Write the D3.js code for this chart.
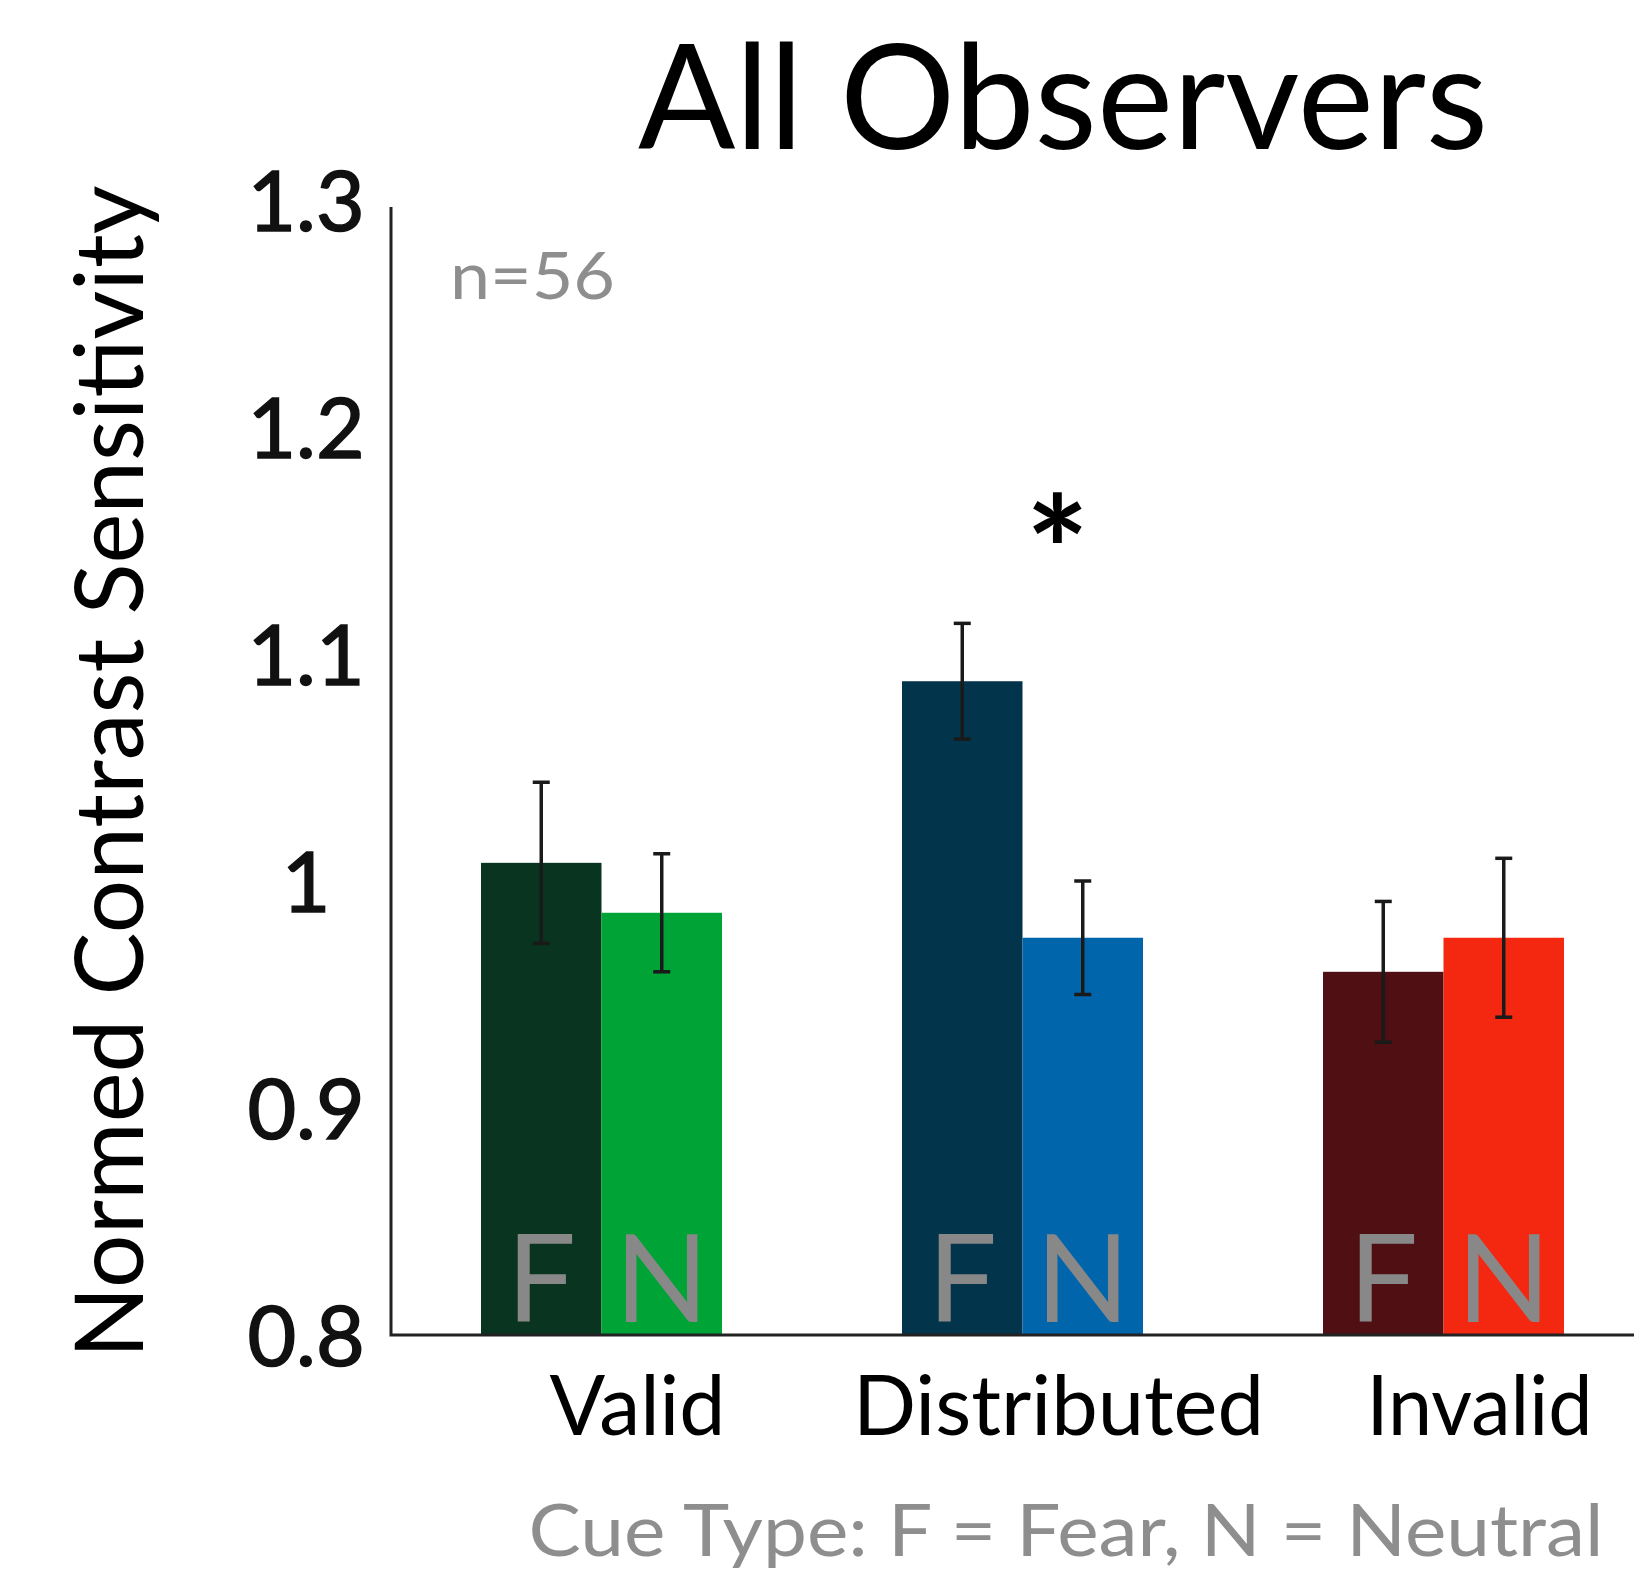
<!DOCTYPE html>
<html>
<head>
<meta charset="utf-8">
<script src="https://cdn.jsdelivr.net/npm/d3@7"></script>
<style>
  html, body { margin: 0; padding: 0; background: #ffffff; }
  svg { display: block; }
</style>
</head>
<body>
<script>
// Cue conditions and the two cue types (F = fear face, N = neutral face)
const categories = ["Valid", "Distributed", "Invalid"];
const cueTypes = ["F", "N"];

// Normed contrast sensitivity, mean and error per condition
const fearMeans = [1.008, 1.088, 0.960];
const fearErrors = [0.0355, 0.0255, 0.031];
const neutralMeans = [0.986, 0.975, 0.975];
const neutralErrors = [0.026, 0.025, 0.035];

// Bar fills: dark shade for fear, bright shade for neutral
const fearColors = ["#09341f", "#02344b", "#4f0f13"];
const neutralColors = ["#00a335", "#0065aa", "#f42810"];

// Axis ticks
const yTickValues = [0.8, 0.9, 1.0, 1.1, 1.2, 1.3];
const yTickLabels = ["0.8", "0.9", "1", "1.1", "1.2", "1.3"];

// Annotations
const titleText = "All Observers";
const yAxisTitle = "Normed Contrast Sensitivity";
const sampleText = "n=56";
const footerText = "Cue Type: F = Fear, N = Neutral";
const significantCategory = "Distributed";
const significanceMark = "*";

const W = 1634, H = 1575;
const FONT = "Lato, 'Open Sans', sans-serif";

const rows = categories.flatMap((c, i) => [
  { cat: c, cue: cueTypes[0], mean: fearMeans[i], err: fearErrors[i], color: fearColors[i] },
  { cat: c, cue: cueTypes[1], mean: neutralMeans[i], err: neutralErrors[i], color: neutralColors[i] }
]);

const svg = d3.select("body").append("svg")
  .attr("width", W).attr("height", H)
  .attr("viewBox", `0 0 ${W} ${H}`);

const axisX = 391, baseY = 1335, axisTop = 207;

const y = d3.scaleLinear().domain([0.8, 1.3]).range([baseY, 200]);
const x = d3.scaleBand().domain(categories).range([481, 1564]).paddingInner(0.4276).paddingOuter(0);
const xCue = d3.scaleBand().domain(cueTypes).range([0, x.bandwidth()]).padding(0);

// Bars
const bars = svg.append("g");
bars.selectAll("rect").data(rows).join("rect")
  .attr("x", d => x(d.cat) + xCue(d.cue))
  .attr("y", d => y(d.mean))
  .attr("width", xCue.bandwidth())
  .attr("height", d => y(0.8) - y(d.mean))
  .attr("fill", d => d.color);

// F / N letters at the foot of each bar
bars.selectAll("text.cue").data(rows).join("text")
  .attr("class", "cue")
  .attr("x", d => x(d.cat) + xCue(d.cue) + xCue.bandwidth() / 2)
  .attr("y", baseY - 13)
  .attr("text-anchor", "middle")
  .attr("font-family", FONT)
  .attr("font-size", 123)
  .attr("fill", "#888888")
  .text(d => d.cue);

// Error bars
const eb = svg.append("g").attr("stroke", "#1a1a1a").attr("stroke-width", 3.5);
rows.forEach(d => {
  const cx = x(d.cat) + xCue(d.cue) + xCue.bandwidth() / 2;
  const y1 = y(d.mean + d.err), y2 = y(d.mean - d.err);
  eb.append("line").attr("x1", cx).attr("x2", cx).attr("y1", y1).attr("y2", y2);
  eb.append("line").attr("x1", cx - 8.5).attr("x2", cx + 8.5).attr("y1", y1).attr("y2", y1);
  eb.append("line").attr("x1", cx - 8.5).attr("x2", cx + 8.5).attr("y1", y2).attr("y2", y2);
});

// Axis lines
svg.append("path")
  .attr("d", `M${axisX},${axisTop}V${baseY}H${W}`)
  .attr("fill", "none").attr("stroke", "#222222").attr("stroke-width", 3);

// Y tick labels via d3 axis
const yAxis = d3.axisLeft(y)
  .tickValues(yTickValues)
  .tickFormat((d, i) => yTickLabels[i])
  .tickSize(0);
const gy = svg.append("g").attr("transform", `translate(${axisX},0)`).call(yAxis);
gy.select(".domain").remove();
gy.selectAll("text")
  .attr("x", 306 - axisX)
  .attr("dy", "0.36em")
  .attr("text-anchor", "middle")
  .attr("font-family", FONT)
  .attr("font-size", 84)
  .attr("fill", "#111111")
  .attr("stroke", "#111111")
  .attr("stroke-width", 1.6);

// Category labels
const labelWidths = { Valid: 176, Distributed: 411, Invalid: 226 };
svg.append("g").selectAll("text").data(categories).join("text")
  .attr("x", d => x(d) + x.bandwidth() / 2 + 36)
  .attr("y", 1435)
  .attr("text-anchor", "middle")
  .attr("font-family", FONT)
  .attr("font-size", 84)
  .attr("fill", "#000000")
  .attr("textLength", d => labelWidths[d])
  .attr("lengthAdjust", "spacingAndGlyphs")
  .text(d => d);

// Title
svg.append("text")
  .attr("x", 1063).attr("y", 149)
  .attr("text-anchor", "middle")
  .attr("font-family", FONT)
  .attr("font-size", 146)
  .attr("fill", "#000000")
  .attr("textLength", 850)
  .attr("lengthAdjust", "spacingAndGlyphs")
  .text(titleText);

// Y axis title
svg.append("text")
  .attr("transform", `translate(143,772) rotate(-90)`)
  .attr("text-anchor", "middle")
  .attr("font-family", FONT)
  .attr("font-size", 95)
  .attr("fill", "#000000")
  .attr("textLength", 1173)
  .attr("lengthAdjust", "spacingAndGlyphs")
  .text(yAxisTitle);

// Sample size
svg.append("text")
  .attr("x", 450).attr("y", 299)
  .attr("font-family", FONT)
  .attr("font-size", 66)
  .attr("fill", "#8e8e8e")
  .attr("textLength", 165)
  .attr("lengthAdjust", "spacingAndGlyphs")
  .text(sampleText);

// Significance marker
svg.append("text")
  .attr("x", x(significantCategory) + x.bandwidth() / 2 + 35)
  .attr("y", 606)
  .attr("text-anchor", "middle")
  .attr("font-family", FONT)
  .attr("font-weight", "bold")
  .attr("font-size", 150)
  .attr("fill", "#000000")
  .text(significanceMark);

// Footer legend
svg.append("text")
  .attr("x", 1066).attr("y", 1556)
  .attr("text-anchor", "middle")
  .attr("font-family", FONT)
  .attr("font-size", 72)
  .attr("fill", "#8e8e8e")
  .attr("textLength", 1075)
  .attr("lengthAdjust", "spacingAndGlyphs")
  .text(footerText);
</script>
</body>
</html>
